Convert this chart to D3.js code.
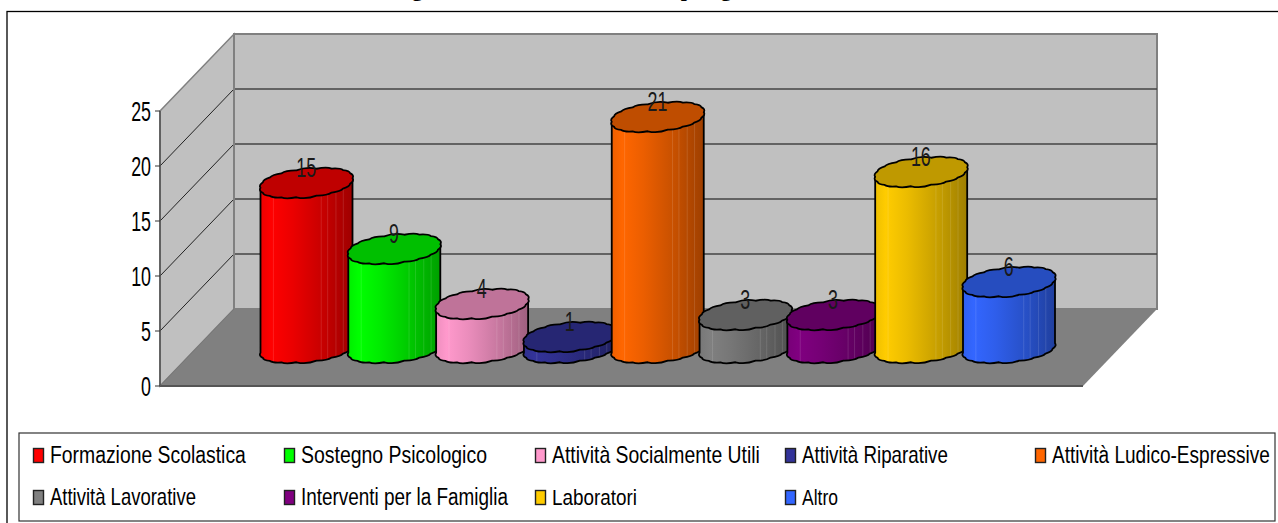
<!DOCTYPE html>
<html><head><meta charset="utf-8">
<script src="https://cdn.jsdelivr.net/npm/d3@7"></script>
<style>html,body{margin:0;padding:0;background:#fff;overflow:hidden}svg{display:block}text{font-family:"Liberation Sans",Arial,sans-serif;fill:#000}</style>
</head><body><svg id="c" width="1278" height="523"></svg>
<script>
const categories=["Formazione Scolastica","Sostegno Psicologico","Attività Socialmente Utili","Attività Riparative","Attività Ludico-Espressive","Attività Lavorative","Interventi per la Famiglia","Laboratori","Altro"];
const values=[15,9,4,1,21,3,3,16,6];
const colors=["#ff0000","#00ff00","#ff99cc","#333399","#ff6600","#808080","#800080","#ffcc00","#3366ff"];
const yTicks=[0,5,10,15,20,25];
const legendCols=[33,284,535,785,1035];
const legendRows=[455,497];
const legendWidths=[196,186,208,146,218,146,207,85,36];
const titleText="Figura 1. Attività svolte nella tipologia";

const W=74,H=-77;
const svg=d3.select("#c");
const defs=svg.append("defs");
const y=d3.scaleLinear().domain([0,25]).range([386,111]);
const frontX=[160,1083];
const x=d3.scalePoint().domain(categories).range([306.5,1009]);

// title, cut by the top of the page as in the reference
const title=svg.append("text").attr("x",0).attr("y",-4).style("font-family","Liberation Serif").style("font-weight","bold").style("font-size","20px").text(titleText);
{
  const n=title.node(),iG=titleText.indexOf("g"),iP=titleText.indexOf("p");
  const gx=n.getStartPositionOfChar(iG).x,px=n.getStartPositionOfChar(iP).x;
  const k=(685-416)/(px-gx);
  title.attr("transform",`translate(${412-gx*k},0) scale(${k},1)`);
}

// outer frame
svg.append("rect").attr("x",7).attr("y",11.5).attr("width",1275).attr("height",520).attr("fill","#fff").attr("stroke","#000").attr("stroke-width",1.3);

// walls & floor
svg.append("path").attr("d",`M${frontX[0]},${y(25)}L${frontX[0]+W},${y(25)+H}V${y(0)+H}L${frontX[0]},${y(0)}Z`).attr("fill","#c0c0c0").attr("stroke","#808080").attr("stroke-width",1.5);
svg.append("rect").attr("x",frontX[0]+W).attr("y",y(25)+H).attr("width",frontX[1]-frontX[0]).attr("height",y(0)-y(25)).attr("fill","#c0c0c0").attr("stroke","#808080").attr("stroke-width",2);
svg.append("path").attr("d",`M${frontX[0]},${y(0)}L${frontX[0]+W},${y(0)+H}H${frontX[1]+W}L${frontX[1]},${y(0)}Z`).attr("fill","#808080");
svg.append("path").attr("d",`M${frontX[0]},${y(0)}H${frontX[1]}`).attr("stroke","#555").attr("stroke-width",2);
svg.append("path").attr("d",`M${frontX[0]},${y(0)}L${frontX[0]+W},${y(0)+H}`).attr("stroke","#777").attr("stroke-width",1);

// grid
yTicks.filter(t=>t>0&&t<25).forEach(t=>{
  svg.append("path").attr("d",`M${frontX[0]},${y(t)}L${frontX[0]+W},${y(t)+H}`).attr("fill","none").attr("stroke","#222").attr("stroke-width",1);
  svg.append("path").attr("d",`M${frontX[0]+W},${y(t)+H}H${frontX[1]+W}`).attr("fill","none").attr("stroke","#444").attr("stroke-width",1.6);
});
svg.append("path").attr("d",`M${frontX[0]+W},${y(25)+H}V${y(0)+H}`).attr("stroke","#808080").attr("stroke-width",2);

// axis
svg.append("path").attr("d",`M${frontX[0]},${y(25)}V${y(0)}`).attr("stroke","#555").attr("stroke-width",1.6);
yTicks.forEach(t=>{
  svg.append("path").attr("d",`M${frontX[0]-5},${y(t)}H${frontX[0]}`).attr("stroke","#333");
  svg.append("text").attr("x",151).attr("y",y(t)+10).attr("text-anchor","end").style("font-size","27px").attr("transform",`translate(151,0) scale(.66,1) translate(-151,0)`).text(t);
});

// cylinders
const A=46,B=13.6,K=4.8,N=18,P=2/2.3,bump=1.6,baseY=348;
const dy=y(0)-baseY;
const spow=v=>Math.sign(v)*Math.pow(Math.abs(v),P);
const pt=(c,cy,i)=>{const t=i/N*2*Math.PI;return [c+A*spow(Math.cos(t)),cy+B*spow(Math.sin(t))-K*Math.cos(t)];};
// scalloped segment between two rim points, bulging away from the rim centre
const seg=(c,cy,a,b)=>{
  const mx=(a[0]+b[0])/2,my=(a[1]+b[1])/2;
  const dx=mx-c,dY=my-cy,l=Math.hypot(dx,dY)||1;
  return `Q${mx+dx/l*bump*2},${my+dY/l*bump*2} ${b[0]},${b[1]}`;
};
const rimPath=(c,cy,from,to)=>{
  const step=from<to?1:-1;let d="";
  for(let k=from;k!==to;k+=step)d+=seg(c,cy,pt(c,cy,k),pt(c,cy,k+step));
  return d;
};
const streaks=[.14,.66,.73,.82,.9];
values.forEach((v,i)=>{
  const c=x(categories[i]),col=d3.rgb(colors[i]);
  const top=y(v)-dy,bot=baseY;
  const g=svg.append("g");
  const id="grad"+i;
  const gr=defs.append("linearGradient").attr("id",id);
  [[0,.93],[.12,1],[.35,.92],[.7,.77],[1,.62]].forEach(([o,s])=>{
    gr.append("stop").attr("offset",o).attr("stop-color",d3.rgb(col.r*s,col.g*s,col.b*s).formatHex());
  });
  const L=pt(c,bot,N/2),RT=pt(c,top,0),LT=pt(c,top,N/2);
  const sideD=`M${L}`+rimPath(c,bot,N/2,0)+`L${RT}L${LT}Z`;
  defs.append("clipPath").attr("id","clip"+i).append("path").attr("d",sideD);
  g.append("path").attr("d",sideD).attr("fill",`url(#${id})`);
  const st=g.append("g").attr("clip-path",`url(#clip${i})`);
  streaks.forEach(u=>{
    const sx=c-A+u*2*A;
    st.append("path").attr("d",`M${sx},${top-20}V${bot+20}`).attr("stroke","#fff").attr("stroke-opacity",.12).attr("stroke-width",1);
  });
  g.append("path").attr("d",sideD).attr("fill","none").attr("stroke","#000").attr("stroke-width",1.8).attr("stroke-linejoin","round");
  g.append("path").attr("d",`M${pt(c,top,0)}`+rimPath(c,top,0,N)+"Z").attr("fill",d3.rgb(col.r*.75,col.g*.75,col.b*.75).formatHex()).attr("stroke","#000").attr("stroke-width",1.8).attr("stroke-linejoin","round");
});
values.forEach((v,i)=>{
  const c=x(categories[i]);
  svg.append("text").attr("x",c-.5).attr("y",y(v)-dy-6).attr("text-anchor","middle").style("font-size","27px").attr("transform",`translate(${c},0) scale(.66,1) translate(${-c},0)`).style("fill","#1a1a1a").text(v);
});

// legend
svg.append("rect").attr("x",19).attr("y",433).attr("width",1256).attr("height",88).attr("fill","#fff").attr("stroke","#333").attr("stroke-width",1.2);
categories.forEach((n,i)=>{
  const r=i<5?0:1,cx=legendCols[r?i-5:i],cy=legendRows[r];
  svg.append("rect").attr("x",cx+.5).attr("y",cy-6.5).attr("width",10).attr("height",14).attr("fill",colors[i]).attr("stroke","#222").attr("stroke-width",1.4);
  const t=svg.append("text").attr("x",0).attr("y",cy+8).style("font-size","23px").text(n);
  t.attr("transform",`translate(${cx+17},0) scale(${legendWidths[i]/t.node().getComputedTextLength()},1)`);
});
</script></body></html>
